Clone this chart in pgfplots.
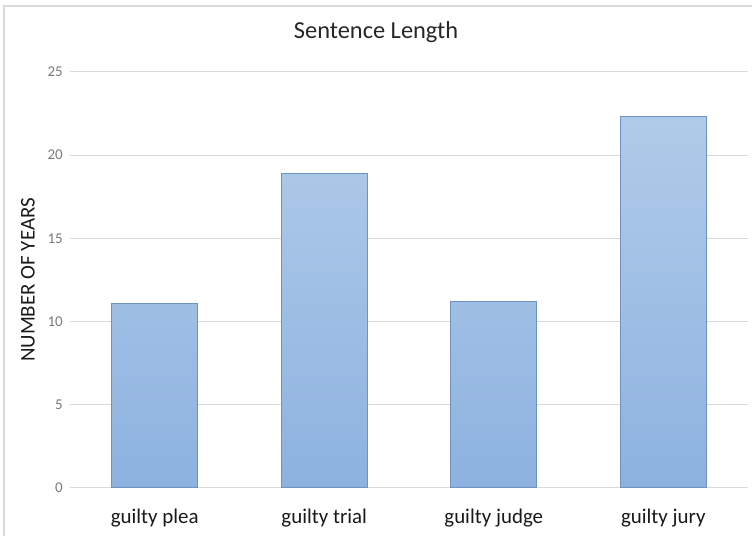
\documentclass[border=0pt]{standalone}
\usepackage{pgfplots}
\pgfplotsset{compat=1.18}
\usepackage{fontspec}
\setmainfont{Carlito}
\definecolor{bartop}{RGB}{176,203,233}
\definecolor{barbot}{RGB}{141,178,224}
\definecolor{baredge}{RGB}{112,146,194}
\definecolor{gridc}{RGB}{217,217,217}
\definecolor{tickc}{RGB}{120,120,120}
\definecolor{framec}{RGB}{217,217,217}
\begin{document}
\begin{tikzpicture}[x=1bp,y=1bp]
\useasboundingbox (0,0) rectangle (752,536);
\clip (0,0) rectangle (752,536);
\draw[framec, line width=1.2bp] (4,-10) -- (4,530) -- (800,530);
\begin{axis}[
  at={(70bp,48bp)}, anchor=south west,
  scale only axis, width=678bp, height=416bp,
  xmin=-0.5, xmax=3.5, ymin=0, ymax=25,
  xtick={0,1,2,3},
  xticklabels={guilty plea, guilty trial, guilty judge, guilty jury},
  ytick={0,5,10,15,20,25},
  axis line style={draw=none},
  major tick length=0pt,
  ymajorgrids, grid style={gridc, line width=1bp},
  /pgf/number format/assume math mode=true,
  yticklabel style={font=\fontsize{15}{17}\selectfont, text=tickc, anchor=east, inner sep=0pt, xshift=-7bp},
  xticklabel style={font=\fontsize{21}{23}\selectfont, text=black!90, anchor=center, inner sep=0pt, yshift=-30bp},
  ylabel={NUMBER OF YEARS},
  ylabel style={font=\fontsize{21}{23}\selectfont, text=black!90, at={(axis description cs:-0.062,0.5)}, rotate=0, anchor=center},
  title={Sentence Length},
  title style={font=\fontsize{24.5}{27}\selectfont, text=black!85, at={(axis description cs:0.5,1)}, anchor=center, yshift=34bp, xshift=-33bp},
]
\addplot[ybar, bar width=0.51, draw=baredge, line width=1bp, top color=bartop, bottom color=barbot]
coordinates {(0,11.1) (1,18.9) (2,11.2) (3,22.3)};
\end{axis}
\end{tikzpicture}
\end{document}
